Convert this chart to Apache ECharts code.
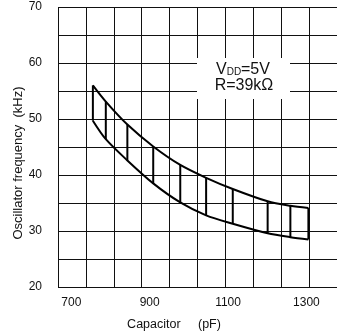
<!DOCTYPE html>
<html><head><meta charset="utf-8">
<script src="https://cdn.jsdelivr.net/npm/echarts@6/dist/echarts.min.js"></script>
<style>html,body{margin:0;padding:0;background:#fff}#c{width:337px;height:334px}</style>
</head><body><div id="c"></div>
<script>
// Data
var capacitance = [755, 788, 843, 909, 978, 1044, 1112, 1201, 1259, 1305]; // pF
var freqUpper   = [56.0, 53.1, 49.0, 45.1, 41.8, 39.5, 37.5, 35.3, 34.5, 34.1]; // kHz
var freqLower   = [49.7, 46.4, 42.6, 38.5, 35.1, 32.8, 31.3, 29.6, 28.9, 28.5]; // kHz
var xTickLabels = [700, 900, 1100, 1300];
var yTickLabels = [20, 30, 40, 50, 60, 70];

var FONT = '"Liberation Sans", Arial, sans-serif';
var chart = echarts.init(document.getElementById('c'), null, {renderer: 'canvas'});

var upperData = capacitance.map(function (c, i) { return [c, freqUpper[i]]; });
var lowerData = capacitance.map(function (c, i) { return [c, freqLower[i]]; });
var barData = capacitance.map(function (c, i) { return [c, freqLower[i], freqUpper[i]]; });

chart.setOption({
  animation: false,
  backgroundColor: '#fff',
  grid: {left: 58, right: -2, top: 7, bottom: 47, containLabel: false},
  xAxis: [
    {
      type: 'value', min: 666, max: 1378,
      axisLine: {show: false}, axisTick: {show: false}, splitLine: {show: false},
      axisLabel: {customValues: xTickLabels, color: '#111', fontSize: 12, fontFamily: FONT, margin: 10,
        formatter: function (v) { return String(v); }}
    },
    {
      type: 'value', min: 0, max: 10, interval: 1,
      axisLine: {show: false}, axisTick: {show: false}, axisLabel: {show: false},
      splitLine: {show: true, lineStyle: {color: '#111', width: 1}}
    }
  ],
  yAxis: {
    type: 'value', min: 20, max: 70, interval: 5,
    axisLine: {show: false}, axisTick: {show: false},
    splitLine: {show: true, lineStyle: {color: '#111', width: 1}},
    axisLabel: {
      color: '#111', fontSize: 12, fontFamily: FONT, margin: 16,
      formatter: function (v) { return yTickLabels.indexOf(v) >= 0 ? String(v) : ''; }
    }
  },
  series: [
    {type: 'line', xAxisIndex: 0, data: upperData, smooth: 0.3, symbol: 'none',
     lineStyle: {color: '#000', width: 2}, z: 5},
    {type: 'line', xAxisIndex: 0, data: lowerData, smooth: 0.3, symbol: 'none',
     lineStyle: {color: '#000', width: 2}, z: 5},
    {type: 'custom', xAxisIndex: 0, data: barData, z: 6,
     renderItem: function (params, api) {
       var p1 = api.coord([api.value(0), api.value(1)]);
       var p2 = api.coord([api.value(0), api.value(2)]);
       return {type: 'line', shape: {x1: p1[0], y1: p1[1], x2: p2[0], y2: p2[1]},
               style: {stroke: '#000', lineWidth: 2}};
     }}
  ],
  graphic: [
    {type: 'rect', shape: {x: 197, y: 58, width: 93, height: 41}, style: {fill: '#fff'}, z: 10},
    {type: 'text', x: 216, y: 70, z: 11,
     style: {text: 'V', align: 'left', verticalAlign: 'middle', fontSize: 16, fontFamily: FONT, fill: '#111'}},
    {type: 'text', x: 226.7, y: 72.1, z: 11,
     style: {text: 'DD', align: 'left', verticalAlign: 'middle', fontSize: 10, fontFamily: FONT, fill: '#111'}},
    {type: 'text', x: 241, y: 70, z: 11,
     style: {text: '=5V', align: 'left', verticalAlign: 'middle', fontSize: 16, fontFamily: FONT, fill: '#111'}},
    {type: 'text', x: 244, y: 86, z: 11,
     style: {text: 'R=39k\u03A9', align: 'center', verticalAlign: 'middle', fontSize: 16, fontFamily: FONT, fill: '#111'}},
    {type: 'text', x: 174, y: 325, z: 11,
     style: {text: 'Capacitor     (pF)', align: 'center', verticalAlign: 'middle', fontSize: 12.5, fontFamily: FONT, fill: '#111'}},
    {type: 'text', x: 18, y: 163, rotation: Math.PI / 2, z: 11,
     style: {text: 'Oscillator frequency  (kHz)', align: 'center', verticalAlign: 'middle', fontSize: 13, fontFamily: FONT, fill: '#111'}}
  ]
});
</script></body></html>
